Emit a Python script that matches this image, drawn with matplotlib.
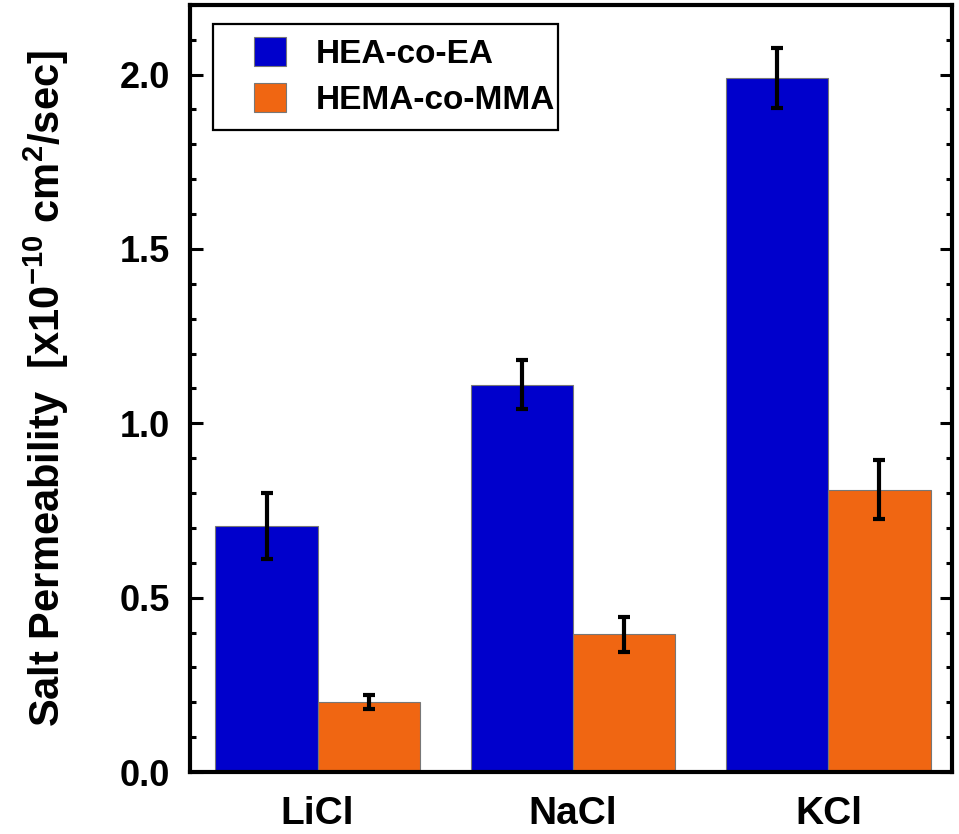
import matplotlib.pyplot as plt
import numpy as np
from matplotlib.patches import Rectangle
from matplotlib.ticker import MultipleLocator

salts = ['LiCl', 'NaCl', 'KCl']
series = ['HEA-co-EA', 'HEMA-co-MMA']
hea_perm = [0.705, 1.11, 1.99]
hea_err = [0.095, 0.07, 0.087]
hema_perm = [0.202, 0.395, 0.81]
hema_err = [0.02, 0.05, 0.085]

colors = ['#0000CC', '#F06612']
width = 0.4

plt.rcParams['font.family'] = ['Liberation Sans', 'DejaVu Sans']
plt.rcParams['font.weight'] = 'bold'
plt.rcParams['mathtext.fontset'] = 'custom'
plt.rcParams['mathtext.rm'] = 'Liberation Sans:bold'
plt.rcParams['mathtext.bf'] = 'Liberation Sans:bold'
plt.rcParams['mathtext.default'] = 'bf'

fig = plt.figure(figsize=(9.59, 8.34), dpi=100)
ax = fig.add_axes([0.198, 0.0743, 0.795, 0.92])

x = np.arange(len(salts))
err_kw = dict(elinewidth=3, capthick=3, capsize=4.5, ecolor='black')
ax.bar(x - width / 2, hea_perm, width, yerr=hea_err, color=colors[0],
       edgecolor='#777777', linewidth=0.8, label=series[0], error_kw=err_kw)
ax.bar(x + width / 2, hema_perm, width, yerr=hema_err, color=colors[1],
       edgecolor='#777777', linewidth=0.8, label=series[1], error_kw=err_kw)

ax.set_xlim(-0.5, 2.485)
ax.set_ylim(0, 2.2)
ax.set_xticks(x)
ax.set_xticklabels(salts, fontweight='bold', fontsize=28)
ax.tick_params(axis='x', length=0, pad=17)

ax.yaxis.set_major_locator(MultipleLocator(0.5))
ax.yaxis.set_minor_locator(MultipleLocator(0.1))
ax.yaxis.set_major_formatter(plt.FormatStrFormatter('%.1f'))
ax.tick_params(axis='y', which='major', direction='in', length=9, width=2.2,
               right=True, labelsize=26, pad=14)
ax.tick_params(axis='y', which='minor', direction='in', length=4.5, width=2.2,
               right=True)
for lbl in ax.get_yticklabels():
    lbl.set_fontweight('bold')

for sp in ax.spines.values():
    sp.set_linewidth(3)

ax.set_ylabel('Salt Permeability  [x10$^{-10}$ cm$^{2}$/sec]',
              fontweight='bold', fontsize=30, labelpad=35)

# legend without its own frame, boxed by a plain rectangle
ax.legend(loc='upper left', bbox_to_anchor=(0.084, 0.958),
          prop={'weight': 'bold', 'size': 24}, frameon=False,
          handlelength=0.96, handleheight=0.96, borderpad=0,
          labelspacing=0.4, handletextpad=0.9, borderaxespad=0)
ax.add_patch(Rectangle((0.030, 0.837), 0.453, 0.138, transform=ax.transAxes,
                       fill=False, edgecolor='black', linewidth=1.6, zorder=5))

fig.savefig('out.png', dpi=100)
